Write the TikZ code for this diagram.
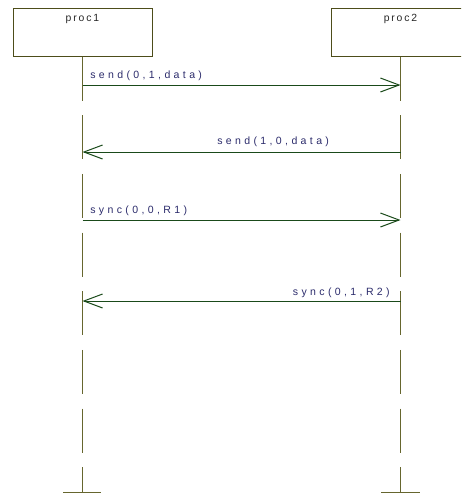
\documentclass[tikz,border=0pt]{standalone}
\usepackage{fontspec}
\usepackage{tikz}
\usetikzlibrary{arrows.meta}
\newfontfamily\msgfont[LetterSpace=32]{Liberation Sans}
\newfontfamily\procfont[LetterSpace=18]{Liberation Sans}
\definecolor{boxcol}{RGB}{77,77,26}
\definecolor{lifecol}{RGB}{102,102,46}
\definecolor{msgcol}{RGB}{26,74,26}
\definecolor{txtcol}{RGB}{43,43,107}
\tikzset{
  procbox/.style={draw=boxcol, line width=0.75pt, minimum width=104.25pt, minimum height=36pt, inner sep=0pt},
  proclbl/.style={text=black!85, inner sep=0pt, font=\procfont\fontsize{7.8}{9}\selectfont},
  lifeline/.style={draw=lifecol, line width=0.75pt, dash pattern=on 33pt off 11pt},
  lifeend/.style={draw=lifecol, line width=0.75pt},
  msg/.style={draw=msgcol, line width=0.75pt, -{Straight Barb[length=14pt,width=10.5pt,line width=0.75pt]}},
  msglbl/.style={text=txtcol, inner sep=0pt, font=\msgfont\fontsize{7.9}{9}\selectfont}
}

\begin{document}
\begin{tikzpicture}[x=0.75pt,y=0.75pt,yscale=-1,xscale=1]
\useasboundingbox (0,0) rectangle (461,493);
\clip (0,0) rectangle (461,493);

% Process boxes
\node (proc1) [procbox] at (82.5,32) {};
\node (proc2) [procbox] at (400.5,32) {};
% Text Node
\node (proc1lbl) [proclbl] at (82.5,19) {proc1};
% Text Node
\node (proc2lbl) [proclbl] at (400.5,19) {proc2};

% Lifeline ends
\coordinate (end1) at (82.5,492);
\coordinate (end2) at (400.5,492);
\coordinate (bar1a) at (63,492);
\coordinate (bar1b) at (101,492);
\coordinate (bar2a) at (381,492);
\coordinate (bar2b) at (420,492);
% Lifelines
\draw [lifeline] (proc1.south) -- (end1);
\draw [lifeline] (proc2.south) -- (end2);
\draw [lifeend] (bar1a) -- (bar1b);
\draw [lifeend] (bar2a) -- (bar2b);

% Message points
\coordinate (m1a) at (82.5,85);
\coordinate (m1b) at (400.5,85);
\coordinate (m2a) at (400.5,152);
\coordinate (m2b) at (82.5,152);
\coordinate (m3a) at (82.5,220);
\coordinate (m3b) at (400.5,220);
\coordinate (m4a) at (400.5,301);
\coordinate (m4b) at (82.5,301);

% Connection
\draw [msg] (m1a) -- (m1b);
% Connection
\draw [msg] (m2a) -- (m2b);
% Connection
\draw [msg] (m3a) -- (m3b);
% Connection
\draw [msg] (m4a) -- (m4b);

% Text Node
\node (send01) [msglbl, anchor=west] at (90,75.5) {send(0,1,data)};
% Text Node
\node (send10) [msglbl, anchor=west] at (217,142) {send(1,0,data)};
% Text Node
\node (sync00) [msglbl, anchor=west] at (90,210.5) {sync(0,0,R1)};
% Text Node
\node (sync01) [msglbl, anchor=east] at (390,292.5) {sync(0,1,R2)};

\end{tikzpicture}
\end{document}
